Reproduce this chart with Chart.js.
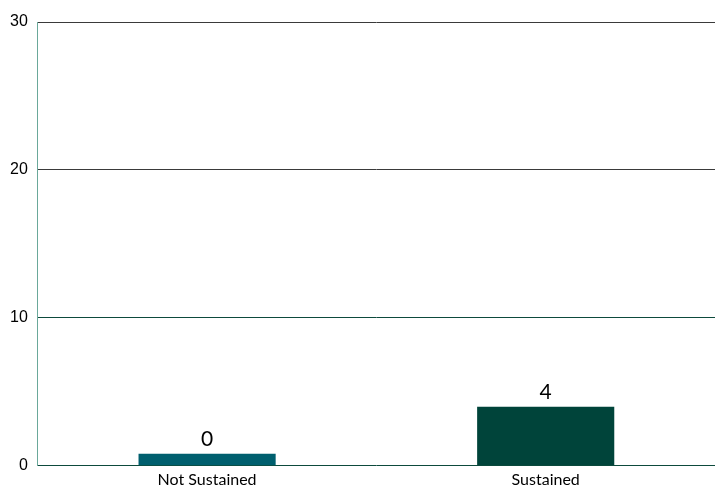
<!DOCTYPE html>
<html><head><meta charset="utf-8">
<script src="https://cdn.jsdelivr.net/npm/chart.js@4"></script>
<style>html,body{margin:0;padding:0;background:#fff}#w{width:715px;height:493px}</style>
</head><body><div id="w"><canvas id="c"></canvas></div>
<script>
const categories = ["Not Sustained", "Sustained"];
const values = [0, 4];
const barColors = ["#005f6e", "#00443a"];
const yTicks = [0, 10, 20, 30];

const labelPlugin = {
  id: 'vals',
  afterDatasetsDraw(chart) {
    const ctx = chart.ctx;
    const meta = chart.getDatasetMeta(0);
    ctx.save();
    ctx.font = '21px "Lato", "DejaVu Sans", sans-serif';
    ctx.fillStyle = '#000';
    ctx.textAlign = 'center';
    ctx.textBaseline = 'bottom';
    meta.data.forEach((bar, i) => {
      ctx.fillText(String(values[i]), bar.x, bar.y - 4);
    });
    ctx.restore();
  }
};

new Chart(document.getElementById('c'), {
  type: 'bar',
  data: {
    labels: categories,
    datasets: [{ data: values, backgroundColor: barColors, minBarLength: 12,
      barPercentage: 0.81, categoryPercentage: 0.5 }]
  },
  options: {
    responsive: true, maintainAspectRatio: false, animation: false,
    layout: { padding: { top: 22, right: 0, left: 0, bottom: 0 } },
    plugins: { legend: { display: false }, tooltip: { enabled: false } },
    scales: {
      x: {
        grid: { display: false, drawTicks: false },
        border: { display: false },
        ticks: { color: '#000', font: { family: 'Lato, "DejaVu Sans", sans-serif', size: 16 }, padding: 4 }
      },
      y: {
        min: 0, max: 30,
        afterBuildTicks(axis) { axis.ticks = yTicks.map(v => ({ value: v })); },
        border: { display: true, color: '#6aa89a', width: 1 },
        grid: {
          drawTicks: false,
          color: (c) => (c.tick && c.tick.value >= 20) ? '#3a3a3a' : '#0d4a3c',
          lineWidth: 1
        },
        ticks: { color: '#000', font: { family: '"Liberation Sans", Arial, sans-serif', size: 16 }, padding: 10 }
      }
    }
  },
  plugins: [labelPlugin]
});
</script></body></html>
